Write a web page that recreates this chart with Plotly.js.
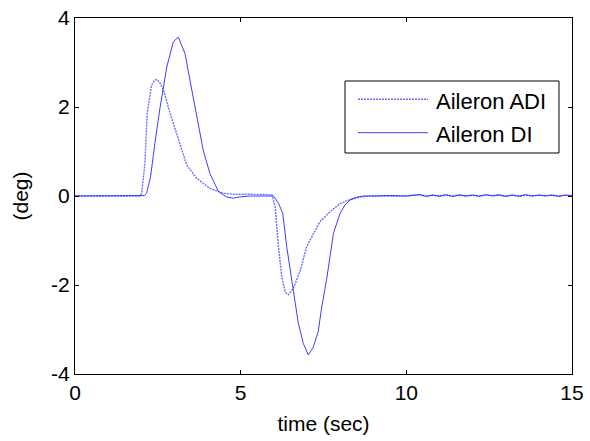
<!DOCTYPE html>
<html>
<head>
<meta charset="utf-8">
<script src="https://cdn.plot.ly/plotly-3.0.1.min.js"></script>
<style>html,body{margin:0;padding:0;background:#fff;}</style>
</head>
<body>
<div id="chart" style="width:590px;height:441px;"></div>
<script>
const seriesNames = ["Aileron ADI", "Aileron DI"];
const xTicks = [0, 5, 10, 15];
const yTicks = [-4, -2, 0, 2, 4];

const tADI = [0, 1.95, 2.01, 2.11, 2.18, 2.31, 2.40, 2.47, 2.55, 2.67, 2.87, 3.12, 3.37, 3.67, 4.07, 4.48, 4.8, 5.2, 5.6, 5.94,
  6.04, 6.14, 6.24, 6.34, 6.44, 6.59, 6.79, 6.99, 7.19, 7.39, 7.7, 8.0, 8.3, 8.6, 9.0, 9.5, 10.0,
  10.2, 10.4, 10.6, 10.8, 11.0, 11.2, 11.4, 11.6, 11.8, 12.0, 12.2, 12.4, 12.6, 12.8, 13.0, 13.2, 13.4, 13.6, 13.8, 14.0, 14.2, 14.4, 14.6, 14.8, 15.0];
const yADI = [0, 0, 0.05, 0.73, 1.86, 2.49, 2.60, 2.62, 2.56, 2.38, 1.86, 1.26, 0.70, 0.40, 0.17, 0.06, 0.04, 0.04, 0.04, 0.03,
  -0.24, -1.14, -1.81, -2.15, -2.22, -2.07, -1.70, -1.14, -0.86, -0.58, -0.35, -0.17, -0.08, -0.02, 0, 0, 0,
  0.02, 0.03, 0.0, 0.02, -0.01, 0.02, 0.0, 0.03, 0.0, 0.02, -0.01, 0.02, 0.01, 0.03, 0.0, 0.02, -0.01, 0.02, 0.0, 0.02, 0.01, 0.02, 0.0, 0.02, 0.01];

const tDI = [0, 1.95, 2.1, 2.16, 2.28, 2.41, 2.57, 2.77, 2.97, 3.12, 3.32, 3.47, 3.67, 3.87, 4.07, 4.33, 4.57, 4.78, 4.98,
  5.3, 5.7, 5.99, 6.14, 6.27, 6.39, 6.54, 6.64, 6.74, 6.89, 7.04, 7.19, 7.34, 7.44, 7.6, 7.8, 8.0, 8.15, 8.3, 8.5, 8.7, 9.0, 9.5, 10.0,
  10.2, 10.4, 10.6, 10.8, 11.0, 11.2, 11.4, 11.6, 11.8, 12.0, 12.2, 12.4, 12.6, 12.8, 13.0, 13.2, 13.4, 13.6, 13.8, 14.0, 14.2, 14.4, 14.6, 14.8, 15.0];
const yDI = [0, 0, 0.01, 0.06, 0.43, 1.18, 2.0, 2.9, 3.47, 3.57, 3.2, 2.6, 1.78, 1.03, 0.51, 0.1, -0.02, -0.05, -0.02,
  0, 0, 0, -0.16, -0.39, -1.14, -1.89, -2.34, -2.86, -3.31, -3.57, -3.40, -3.05, -2.53, -1.85, -0.84, -0.39, -0.2, -0.09, -0.03, 0, 0, 0.01, 0,
  0.01, 0.03, -0.01, 0.02, 0.0, 0.03, -0.01, 0.02, 0.0, 0.02, 0.0, 0.03, 0.0, 0.02, -0.01, 0.02, 0.0, 0.03, 0.0, 0.02, 0.0, 0.02, -0.01, 0.02, 0.0];

const font = {family: "Liberation Sans, Arial, sans-serif", size: 21, color: "#000"};
const legendFont = {family: "Liberation Sans, Arial, sans-serif", size: 22, color: "#000"};

const adiLine = {color: "rgba(60,60,255,0.75)", width: 1.4, dash: "2px,1px"};
const diLine = {color: "rgba(40,40,255,0.9)", width: 1};

const traces = [
  {x: tADI, y: yADI, name: seriesNames[0], type: "scatter", mode: "lines", line: adiLine},
  {x: tDI, y: yDI, name: seriesNames[1], type: "scatter", mode: "lines", line: diLine}
];

const axisCommon = {
  showline: true, linecolor: "#000", linewidth: 1, mirror: "allticks",
  ticks: "inside", ticklen: 4, tickcolor: "#000", showgrid: false, zeroline: false,
  tickfont: font
};

// manual legend (box, line samples, labels) in paper coordinates
const shapes = [
  {type: "rect", xref: "paper", yref: "paper", x0: 0.5433, x1: 0.9738, y0: 0.6208, y1: 0.8230,
   line: {color: "#000", width: 1}, fillcolor: "#fff", layer: "above"},
  {type: "line", xref: "paper", yref: "paper", x0: 0.5694, x1: 0.7103, y0: 0.7716, y1: 0.7716,
   line: adiLine, layer: "above"},
  {type: "line", xref: "paper", yref: "paper", x0: 0.5694, x1: 0.7103, y0: 0.6778, y1: 0.6778,
   line: diLine, layer: "above"}
];
const annotations = [
  {xref: "paper", yref: "paper", x: 0.7223, y: 0.766, xanchor: "left", yanchor: "middle",
   text: seriesNames[0], showarrow: false, font: legendFont},
  {xref: "paper", yref: "paper", x: 0.7223, y: 0.673, xanchor: "left", yanchor: "middle",
   text: seriesNames[1], showarrow: false, font: legendFont}
];

const layout = {
  width: 590, height: 441,
  margin: {l: 75, r: 18, t: 18, b: 67},
  paper_bgcolor: "#fff", plot_bgcolor: "#fff",
  font: font,
  showlegend: false,
  shapes: shapes,
  annotations: annotations,
  xaxis: Object.assign({}, axisCommon, {range: [0, 15], tickvals: xTicks, ticktext: xTicks.map(String),
    title: {text: "time (sec)", font: font, standoff: 13}}),
  yaxis: Object.assign({}, axisCommon, {range: [-4, 4], tickvals: yTicks, ticktext: yTicks.map(String),
    title: {text: "(deg)", font: font, standoff: 16}})
};

Plotly.newPlot("chart", traces, layout, {displayModeBar: false, staticPlot: true});
</script>
</body>
</html>
